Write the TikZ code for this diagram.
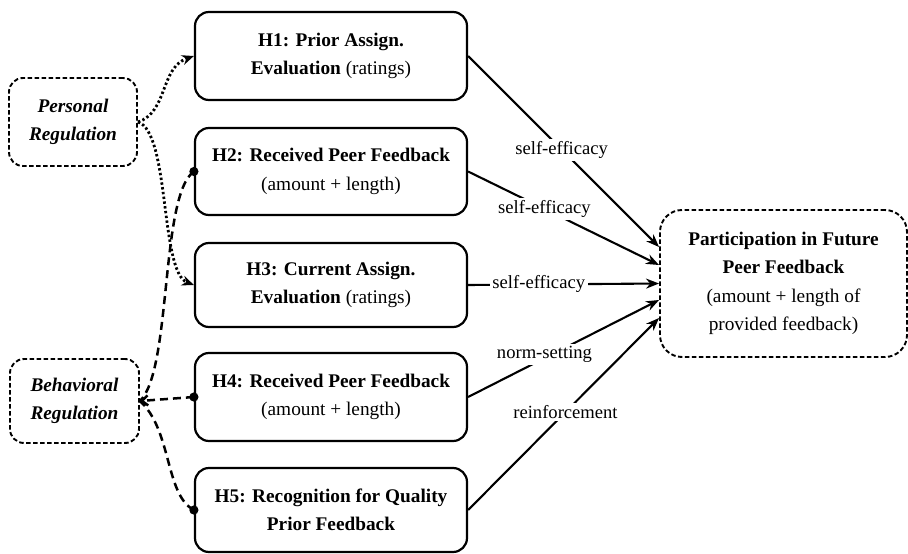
\documentclass[tikz,border=0pt]{standalone}
\usepackage{fontspec}
\setmainfont{Liberation Serif}
\usetikzlibrary{arrows.meta}
\newcommand{\bigfs}{\fontsize{19.3}{28.5}\selectfont}
\newcommand{\lblfs}{\fontsize{18.6}{22}\selectfont}
\tikzset{
  hbox/.style={draw, line width=2.2pt, rounded corners=14pt, minimum width=272pt,
    minimum height=87pt, align=center, inner sep=0pt, font=\bigfs},
  regbox/.style={draw, line width=1.9pt, dash pattern=on 4.5pt off 2.5pt, rounded corners=14pt,
    align=center, inner sep=0pt, font=\bigfs\bfseries\itshape},
  tgtbox/.style={draw, line width=1.9pt, dash pattern=on 4.5pt off 2.5pt, rounded corners=22pt,
    minimum width=247pt, minimum height=147pt, align=center, inner sep=0pt, font=\bigfs},
  conn/.style={line width=2.1pt, -{Stealth[length=13pt,width=10pt]}},
  lbl/.style={fill=white, inner sep=2.5pt, font=\lblfs},
  dotconn/.style={line width=2.8pt, dash pattern=on 2.4pt off 2.4pt, -{Stealth[length=12pt,width=10pt]}},
  dashconn/.style={line width=2.5pt, dash pattern=on 8pt off 5pt},
  enddot/.style={fill=black}
}
\begin{document}
\begin{tikzpicture}[x=1pt,y=-1pt]
\useasboundingbox (0,0) rectangle (908,554);

% regulation boxes
\node[regbox, minimum width=128pt, minimum height=88pt] (PR) at (73,122) {Personal\\Regulation};
\node[regbox, minimum width=129pt, minimum height=84pt] (BR) at (74.5,401) {Behavioral\\Regulation};

% hypothesis boxes
\node[hbox, minimum height=88pt] (H1) at (331,56) {\textbf{H1: Prior Assign.}\\\textbf{Evaluation} (ratings)};
\node[hbox] (H2) at (331,171.5) {\textbf{H2: Received Peer Feedback}\\(amount + length)};
\node[hbox, minimum height=84pt] (H3) at (331,285) {\textbf{H3: Current Assign.}\\\textbf{Evaluation} (ratings)};
\node[hbox, minimum height=88pt] (H4) at (331,397) {\textbf{H4: Received Peer Feedback}\\(amount + length)};
\node[hbox, minimum height=84pt] (H5) at (331,510) {\textbf{H5: Recognition for Quality}\\\textbf{Prior Feedback}};

% target box
\node[tgtbox] (T) at (783.5,283.5) {\textbf{Participation in Future}\\\textbf{Peer Feedback}\\(amount + length of\\provided feedback)};

% solid connectors
\draw[conn] (H1.east) -- node[lbl, pos=0.49] {self-efficacy} ([yshift=36.5pt]T.west);
\draw[conn] (H2.east) -- node[lbl, pos=0.40] {self-efficacy} ([yshift=18.5pt]T.west);
\draw[conn] (H3.east) -- node[lbl, pos=0.37] {self-efficacy} (T.west);
\draw[conn] (H4.east) -- node[lbl, pos=0.40, yshift=4pt] {norm-setting} ([yshift=-16.5pt]T.west);
\draw[conn] (H5.east) -- node[lbl, pos=0.51] {reinforcement} ([yshift=-34.5pt]T.west);

% dotted connectors from personal regulation
\draw[dotconn] (PR.east) .. controls (168,112) and (160,68) .. (H1.west);
\draw[dotconn] (PR.east) .. controls (170,132) and (160,272) .. (H3.west);

% dashed connectors to behavioral regulation
\draw[dashconn] (H2.west) .. controls (160,195) and (172,370) .. (BR.east);
\draw[dashconn, -{Straight Barb[length=6pt,width=10pt]}] (H4.west) -- (BR.east);
\draw[dashconn] (H5.west) .. controls (165,495) and (172,430) .. (BR.east);
\fill[enddot] (H2.west) circle (4.6pt);
\fill[enddot] (H4.west) circle (4.6pt);
\fill[enddot] (H5.west) circle (4.6pt);
\end{tikzpicture}
\end{document}
